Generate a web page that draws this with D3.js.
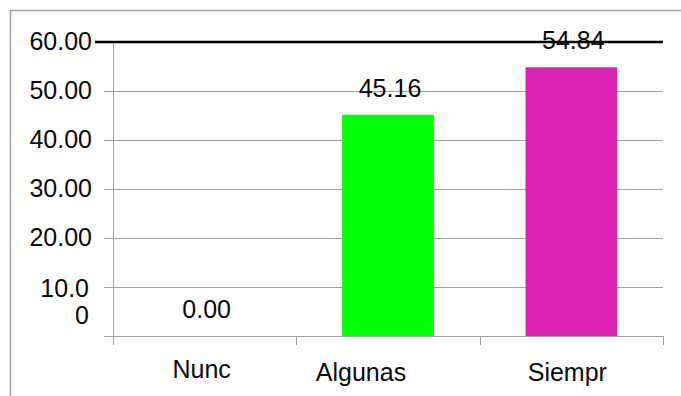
<!DOCTYPE html>
<html>
<head>
<meta charset="utf-8">
<script src="https://cdn.jsdelivr.net/npm/d3@7"></script>
<style>
    body { margin: 0; background: #fff; }
    svg text { font-family: "Liberation Sans", Arial, sans-serif; fill: #0a0a0a; }
</style>
</head>
<body>
<svg id="chart" width="681" height="396"></svg>
<script>
/* Data */
/* **** */
var categories = ['Nunc', 'Algunas', 'Siempr'];
var values = [0.00, 45.16, 54.84];
var barColors = ['#ffffff', '#00ff00', '#dc22b3'];
var yTicks = [0, 10, 20, 30, 40, 50, 60];
// the "10.00" label is wrapped onto two lines in the original
var yTickLabels = [[], ['10.0', '0'], ['20.00'], ['30.00'], ['40.00'], ['50.00'], ['60.00']];

/* Layout */
/* ****** */
var svg = d3.select('#chart');
var fontSize = 25;
var plot = { left: 113, right: 663, top: 42, bottom: 336 };
// category labels in the original are not exactly centred under the bars
var catLabelShift = [-3, -27, -4];
var catLabelBase = [378, 381, 381];

var x = d3.scaleBand()
    .domain(categories)
    .range([plot.left, plot.right])
    .paddingInner(0.5)
    .paddingOuter(0.25);

var y = d3.scaleLinear()
    .domain([0, 60])
    .range([plot.bottom, plot.top]);

// Outer frame (right and bottom edges fall outside the picture)
svg.append('path')
    .attr('d', 'M10.5,396 V10.5 H681')
    .attr('fill', 'none')
    .attr('stroke', '#a0a0a0')
    .attr('stroke-width', 1.5);

// Gridlines + y tick marks
svg.append('g')
    .selectAll('line')
    .data(yTicks.filter(function (t) { return t < 60; }))
    .enter()
    .append('line')
    .attr('x1', plot.left - 9)
    .attr('x2', plot.right)
    .attr('y1', function (d) { return Math.round(y(d)) + 0.5; })
    .attr('y2', function (d) { return Math.round(y(d)) + 0.5; })
    .attr('stroke', '#a0a0a0')
    .attr('stroke-width', 1);

// Y axis line
svg.append('line')
    .attr('x1', plot.left + 0.5)
    .attr('x2', plot.left + 0.5)
    .attr('y1', plot.top)
    .attr('y2', plot.bottom + 9)
    .attr('stroke', '#a0a0a0')
    .attr('stroke-width', 1);

// Category boundary ticks
var edges = categories.map(function (c) { return x(c) - x.step() * 0.25; });
edges.push(plot.right);
svg.append('g')
    .selectAll('line')
    .data(edges)
    .enter()
    .append('line')
    .attr('x1', function (d) { return Math.round(d) + 0.5; })
    .attr('x2', function (d) { return Math.round(d) + 0.5; })
    .attr('y1', plot.bottom)
    .attr('y2', plot.bottom + 9)
    .attr('stroke', '#a0a0a0')
    .attr('stroke-width', 1);

// Bars
svg.append('g')
    .selectAll('rect')
    .data(values)
    .enter()
    .append('rect')
    .attr('x', function (d, i) { return x(categories[i]); })
    .attr('y', function (d) { return y(d); })
    .attr('width', x.bandwidth())
    .attr('height', function (d) { return y(0) - y(d); })
    .attr('fill', function (d, i) { return barColors[i]; });

// Black line on top at 60
svg.append('line')
    .attr('x1', 95)
    .attr('x2', plot.right)
    .attr('y1', y(60))
    .attr('y2', y(60))
    .attr('stroke', '#000')
    .attr('stroke-width', 2.5);

// Y tick labels
var yl = svg.append('g')
    .selectAll('text')
    .data(yTicks)
    .enter()
    .append('text')
    .attr('text-anchor', 'end')
    .attr('font-size', fontSize)
    .attr('x', function (d, i) { return yTickLabels[i].length > 1 ? 89 : 92; })
    .attr('y', function (d) { return y(d) + 8; });
yl.each(function (d, i) {
    var sel = d3.select(this);
    yTickLabels[i].forEach(function (line, k) {
        sel.append('tspan')
            .attr('x', sel.attr('x'))
            .attr('dy', k === 0 ? (yTickLabels[i].length > 1 ? 2 : 0) : 27)
            .text(line);
    });
});

// Value labels
svg.append('g')
    .selectAll('text')
    .data(values)
    .enter()
    .append('text')
    .attr('text-anchor', 'middle')
    .attr('font-size', fontSize)
    .attr('x', function (d, i) { return x(categories[i]) + x.bandwidth() / 2 + 2; })
    .attr('y', function (d) { return y(d) - 18; })
    .text(function (d) { return d.toFixed(2); });

// Category labels
svg.append('g')
    .selectAll('text')
    .data(categories)
    .enter()
    .append('text')
    .attr('text-anchor', 'middle')
    .attr('font-size', fontSize)
    .attr('x', function (d, i) { return x(d) + x.bandwidth() / 2 + catLabelShift[i]; })
    .attr('y', function (d, i) { return catLabelBase[i]; })
    .text(function (d) { return d; });
</script>
</body>
</html>
